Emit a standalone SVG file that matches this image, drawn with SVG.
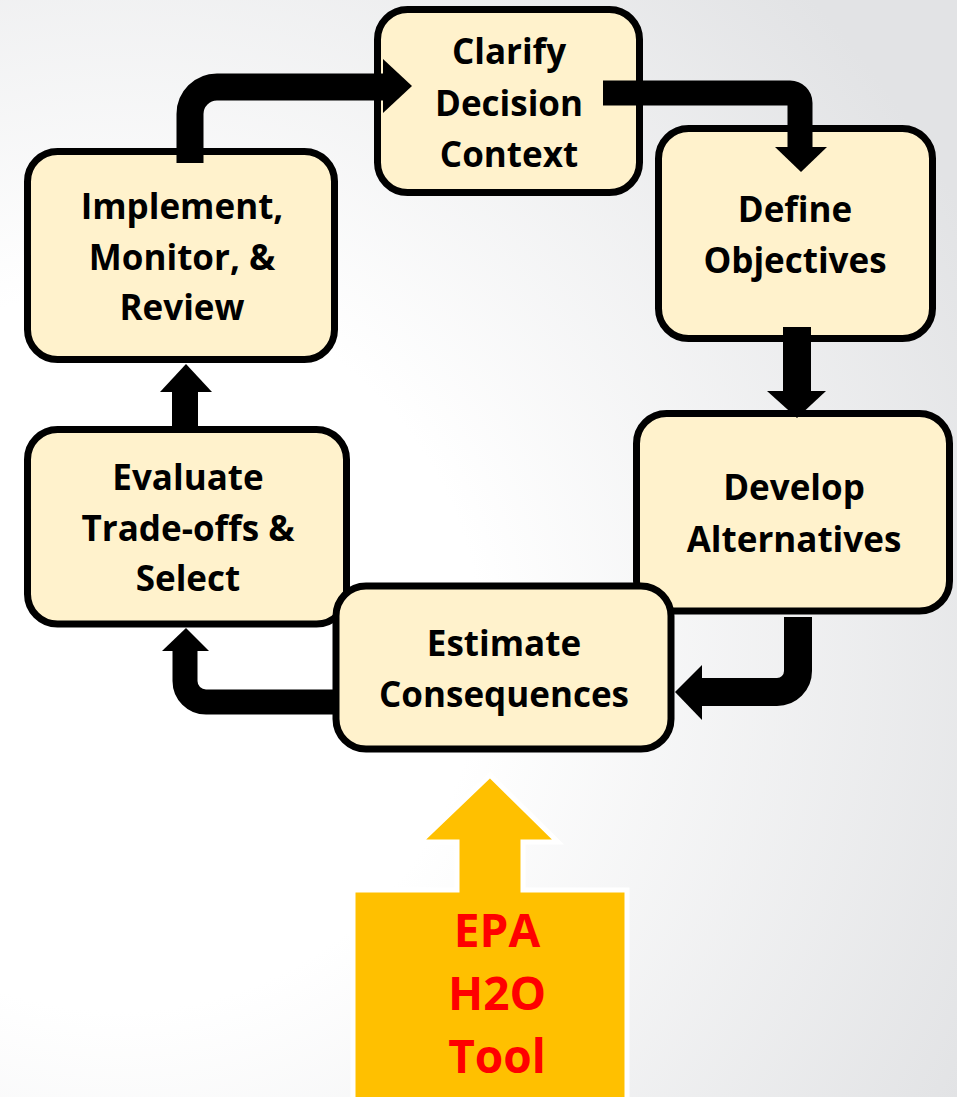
<svg xmlns="http://www.w3.org/2000/svg" width="957" height="1097" viewBox="0 0 957 1097">
<defs>
<radialGradient id="bg" cx="120" cy="650" r="950" gradientUnits="userSpaceOnUse">
<stop offset="0" stop-color="#FFFFFF"/>
<stop offset="0.38" stop-color="#FFFFFF"/>
<stop offset="1" stop-color="#E2E3E5"/>
</radialGradient>
<style>
.box{fill:#FFF2CC;stroke:#000;stroke-width:7}
.lbl{font-family:"Open Sans","Liberation Sans",sans-serif;font-weight:bold;font-size:35px;fill:#000;text-anchor:middle}
.shaft{fill:none;stroke:#000;stroke-linecap:butt;stroke-linejoin:round}
.head{fill:#000}
.tool{font-family:"Open Sans","Liberation Sans",sans-serif;font-weight:bold;font-size:46px;fill:#FF0000;text-anchor:middle}
</style>
</defs>
<rect x="0" y="0" width="957" height="1097" fill="url(#bg)"/>

<g id="node-clarify">
<rect class="box" x="377.5" y="9.5" width="262" height="183" rx="30"/>
<text class="lbl" x="509" y="64">Clarify</text>
<text class="lbl" x="509" y="116">Decision</text>
<text class="lbl" x="509" y="167">Context</text>
</g>
<g id="node-define">
<rect class="box" x="658.5" y="128.5" width="274" height="210" rx="30"/>
<text class="lbl" x="795" y="222">Define</text>
<text class="lbl" x="795" y="273">Objectives</text>
</g>
<g id="node-implement">
<rect class="box" x="27.5" y="151.5" width="307" height="208" rx="30"/>
<text class="lbl" x="182" y="219">Implement,</text>
<text class="lbl" x="182" y="270">Monitor, &amp;</text>
<text class="lbl" x="182" y="320">Review</text>
</g>
<g id="node-develop">
<rect class="box" x="636.5" y="413.5" width="313" height="197.5" rx="30"/>
<text class="lbl" x="794" y="500">Develop</text>
<text class="lbl" x="794" y="552">Alternatives</text>
</g>
<g id="node-evaluate">
<rect class="box" x="27.5" y="429.5" width="319" height="194.5" rx="30"/>
<text class="lbl" x="188" y="490">Evaluate</text>
<text class="lbl" x="188" y="541">Trade-offs &amp;</text>
<text class="lbl" x="188" y="591">Select</text>
</g>
<g id="node-estimate">
<rect class="box" x="336" y="586" width="335" height="163" rx="30"/>
<text class="lbl" x="504" y="656">Estimate</text>
<text class="lbl" x="504" y="707">Consequences</text>
</g>

<g id="connectors">
<path class="shaft" stroke-width="27" d="M190 163 V114 A27 27 0 0 1 217 87 H385"/>
<polygon class="head" points="383,59 412,86 383,113"/>
<path class="shaft" stroke-width="25" d="M603 93 H790 A10 10 0 0 1 800 103 V149"/>
<polygon class="head" points="775,147 827,147 801,172"/>
<path class="shaft" stroke-width="28" d="M797 327 V393"/>
<polygon class="head" points="767,391 826,391 797,418"/>
<path class="shaft" stroke-width="28" d="M798 617 V671 A21 21 0 0 1 777 692 H700"/>
<polygon class="head" points="702,665 675,692 702,720"/>
<path class="shaft" stroke-width="25" d="M333 702 H206 A21 21 0 0 1 185 681 V649"/>
<polygon class="head" points="162,651 209,651 186,628"/>
<path class="shaft" stroke-width="26" d="M185 430 V390"/>
<polygon class="head" points="160,392 212,392 186,364"/>
</g>

<g id="node-epa-tool">
<polygon points="490,775 558,842 523,842 523,890 627,890 627,1102 353,1102 353,890 457,890 457,842 420,842" fill="#FFC000" stroke="#FFFFFF" stroke-width="5"/>
<text class="tool" x="497" y="947">EPA</text>
<text class="tool" x="497" y="1010">H2O</text>
<text class="tool" x="497" y="1073">Tool</text>
</g>
</svg>
